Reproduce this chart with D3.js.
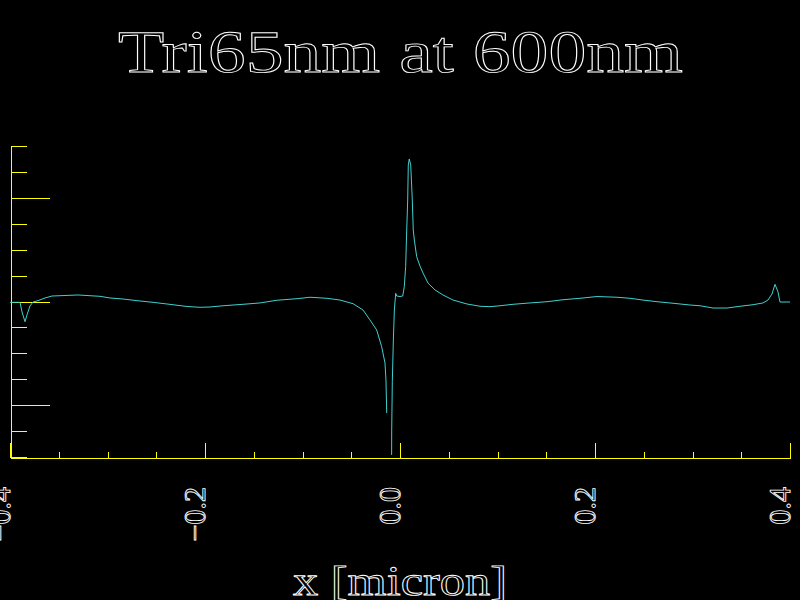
<!DOCTYPE html>
<html>
<head>
<meta charset="utf-8">
<script src="https://cdn.jsdelivr.net/npm/d3@7"></script>
<style>
  html, body { margin: 0; padding: 0; background: #000; }
  svg { display: block; }
  text { text-rendering: geometricPrecision; }
</style>
</head>
<body>
<script>
// ---- data ----
const titleText = "Tri65nm at 600nm";
const xLabelText = "x [micron]";
const xMajorTicks = [-0.4, -0.2, 0.0, 0.2, 0.4];
const xTickLabels = ["\u22120.4", "\u22120.2", "0.0", "0.2", "0.4"];
const xMinorTicks = d3.range(-0.4, 0.4001, 0.05).map(v => +v.toFixed(3));
const yMajorTicks = [-1, 0, 1];
const yMinorTicks = d3.range(-1.5, 1.5001, 0.25).map(v => +v.toFixed(3));
const xDomain = [-0.4, 0.4];
const yDomain = [-1.5, 1.5];

const xValues = [
  -0.4, -0.3897, -0.3877, -0.3846, -0.3826, -0.3795, -0.3764, -0.3713, -0.3641, -0.3569,
  -0.3487, -0.3303, -0.3077, -0.2974, -0.2841, -0.2697, -0.2533, -0.2390, -0.2185, -0.2051,
  -0.1949, -0.1815, -0.1610, -0.1436, -0.1262, -0.1056, -0.0923, -0.0749, -0.0615, -0.0482,
  -0.0379, -0.0308, -0.0239, -0.0188, -0.0154, -0.0144, -0.0136, -0.0110, -0.0086, -0.0085,
  -0.0079, -0.0068, -0.0058, -0.0044, -0.0034, 0.0000, 0.0028, 0.0044, 0.0058, 0.0069,
  0.0079, 0.0085, 0.0095, 0.0110, 0.0126, 0.0136, 0.0147, 0.0171, 0.0205, 0.0236,
  0.0287, 0.0359, 0.0441, 0.0544, 0.0687, 0.0821, 0.0923, 0.1026, 0.1159, 0.1333,
  0.1508, 0.1672, 0.1846, 0.2021, 0.2226, 0.2359, 0.2492, 0.2636, 0.2800, 0.2974,
  0.3077, 0.3210, 0.3354, 0.3487, 0.3621, 0.3723, 0.3774, 0.3815, 0.3846, 0.3877,
  0.3897, 0.4
];
const yValues = [
  -0.008, -0.008, -0.100, -0.195, -0.130, -0.043, -0.005, 0.008, 0.034, 0.053,
  0.056, 0.063, 0.050, 0.034, 0.024, 0.008, -0.008, -0.024, -0.048, -0.056,
  -0.053, -0.041, -0.027, -0.014, 0.012, 0.027, 0.041, 0.031, 0.014, -0.021,
  -0.082, -0.178, -0.275, -0.436, -0.593, -0.757, -1.076, NaN, -1.480, -1.249,
  -0.774, -0.371, -0.082, 0.079, 0.053, 0.048, 0.053, 0.143, 0.336, 0.690,
  0.979, 1.317, 1.375, 1.317, 0.979, 0.690, 0.593, 0.432, 0.342, 0.275,
  0.178, 0.111, 0.063, 0.014, -0.024, -0.046, -0.050, -0.041, -0.027, -0.014,
  -0.002, 0.017, 0.031, 0.048, 0.041, 0.031, 0.014, -0.002, -0.017, -0.034,
  -0.041, -0.063, -0.063, -0.046, -0.031, -0.014, 0.014, 0.072, 0.166, 0.092,
  -0.005, -0.005
];

// ---- chart ----
const W = 800, H = 600;
const yellow = "#ffff00", cyan = "#40d0d0", white = "#ffffff";
const serif = "'Liberation Serif', 'DejaVu Serif', serif";

const svg = d3.select("body").append("svg")
  .attr("width", W).attr("height", H)
  .style("background", "#000");

const x = d3.scaleLinear().domain(xDomain).range([10, 790]);
const y = d3.scaleLinear().domain(yDomain).range([457, 146]);

svg.append("defs").append("clipPath").attr("id", "plotclip")
  .append("rect").attr("x", 10).attr("y", 146).attr("width", 780).attr("height", 311);

// title
svg.append("text")
  .attr("x", 118).attr("y", 72)
  .attr("textLength", 565).attr("lengthAdjust", "spacingAndGlyphs")
  .attr("font-family", serif).attr("font-size", 60)
  .attr("fill", "none").attr("stroke", white).attr("stroke-width", 0.9)
  .text(titleText);

// y axis: minor and major ticks pointing right
const yMinor = d3.axisRight(y).tickValues(yMinorTicks).tickSizeInner(16).tickSizeOuter(0).tickFormat("");
const yMajor = d3.axisRight(y).tickValues(yMajorTicks).tickSizeInner(39).tickSizeOuter(0).tickFormat("");
[yMinor, yMajor].forEach(ax => {
  const g = svg.append("g").attr("transform", "translate(10.5,0)").call(ax);
  g.selectAll("path, line").attr("stroke", yellow).attr("stroke-width", 1).attr("shape-rendering", "crispEdges");
});

// x axis: ticks pointing up
const xMinor = d3.axisTop(x).tickValues(xMinorTicks).tickSizeInner(6).tickSizeOuter(0).tickFormat("");
const xMajor = d3.axisTop(x).tickValues(xMajorTicks).tickSizeInner(15).tickSizeOuter(0).tickFormat("");
[xMinor, xMajor].forEach(ax => {
  const g = svg.append("g").attr("transform", "translate(0,457.5)").call(ax);
  g.selectAll("path, line").attr("stroke", yellow).attr("stroke-width", 1).attr("shape-rendering", "crispEdges");
});

// x tick labels (rotated, reading upward)
svg.append("g").selectAll("text")
  .data(xMajorTicks)
  .join("text")
  .attr("transform", d => `translate(${x(d)},487) rotate(-90)`)
  .attr("text-anchor", "end")
  .attr("font-family", serif).attr("font-size", 30)
  .attr("fill", "none").attr("stroke", white).attr("stroke-width", 0.9)
  .text((d, i) => xTickLabels[i]);

// x label
svg.append("text")
  .attr("x", 293).attr("y", 595)
  .attr("textLength", 214).attr("lengthAdjust", "spacingAndGlyphs")
  .attr("font-family", serif).attr("font-size", 42)
  .attr("fill", "none").attr("stroke", white).attr("stroke-width", 0.9)
  .text(xLabelText);

// curve
const pts = xValues.map((v, i) => [v, yValues[i]]);
const line = d3.line()
  .defined(d => !isNaN(d[1]))
  .x(d => x(d[0])).y(d => y(d[1]));
svg.append("path")
  .datum(pts)
  .attr("clip-path", "url(#plotclip)")
  .attr("d", line)
  .attr("fill", "none").attr("stroke", cyan).attr("stroke-width", 1);
</script>
</body>
</html>
